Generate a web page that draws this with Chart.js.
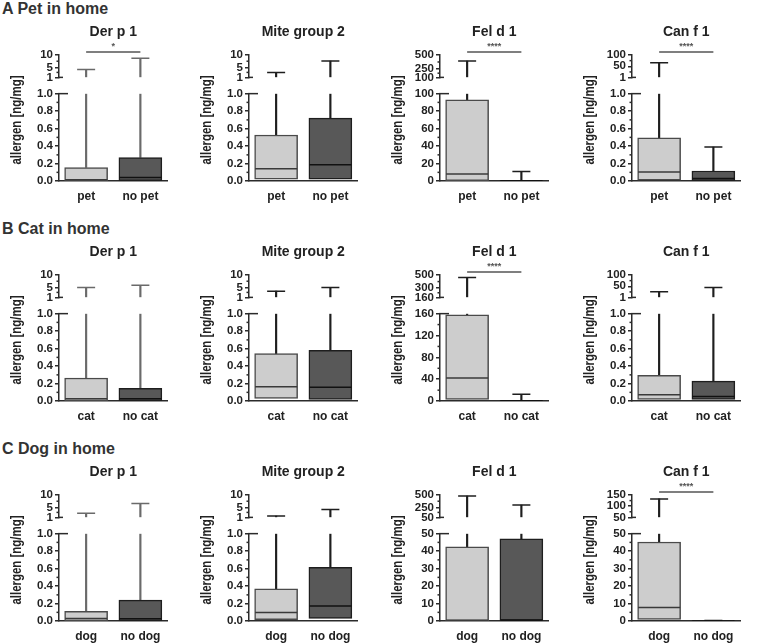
<!DOCTYPE html>
<html><head><meta charset="utf-8">
<script src="https://cdn.jsdelivr.net/npm/chart.js@4.4.1/dist/chart.umd.min.js"></script>
<style>
body{margin:0;background:#fff;width:760px;height:644px;position:relative;overflow:hidden;font-family:'Liberation Sans',Arial,sans-serif}
.hdr{position:absolute;left:2px;font-weight:bold;font-size:16px;line-height:17px;color:#333}
canvas{position:absolute}
</style></head><body>
<script>
// ---------- data ----------
const rowTitles = ['A Pet in home', 'B Cat in home', 'C Dog in home'];
const allergens = ['Der p 1', 'Mite group 2', 'Fel d 1', 'Can f 1'];
const rowGroups = [['pet', 'no pet'], ['cat', 'no cat'], ['dog', 'no dog']];
const yTitle = 'allergen [ng/mg]';

// panels in row-major order (A1..A4, B1..B4, C1..C4); each entry = [group, no group]
const boxLow = [
  [0.004, 0.005], [0.023, 0.023], [0.5, 0.1], [0.012, 0.005],
  [0.003, 0.003], [0.031, 0.02], [3.1, 0.3], [0.02, 0.02],
  [0.003, 0.003], [0.016, 0.031], [0.2, 0.2], [0.97, 0.05]
];
const median = [
  [0.015, 0.04], [0.14, 0.186], [8.1, 0.3], [0.105, 0.03],
  [0.027, 0.027], [0.163, 0.159], [42.2, 0.8], [0.074, 0.054],
  [0.031, 0.027], [0.097, 0.174], [0.4, 0.6], [7.75, 0.1]
];
const boxHigh = [
  [0.155, 0.27], [0.527, 0.72], [93, 0.6], [0.496, 0.116],
  [0.264, 0.147], [0.543, 0.581], [158, 1.5], [0.295, 0.229],
  [0.112, 0.24], [0.368, 0.616], [42.4, 47.1], [45.2, 0.2]
];
const whiskerMax = [
  [4.2, 8.7], [3.0, 7.6], [392, 10.9], [66, 0.39],
  [5.0, 5.85], [3.5, 5.0], [463, 12.4], [25.4, 45.2],
  [2.66, 6.54], [1.55, 4.18], [479, 299], [132.5, 0.3]
];
const significance = ['*', '', '****', '****', '', '', '****', '', '', '', '', '****'];

// axis ticks
const FRAC = [0, 0.2, 0.4, 0.6, 0.8, 1];
const FRAC_MINOR = [0.1, 0.3, 0.5, 0.7, 0.9];
const TEN = [1, 5, 10];
const TEN_MINOR = [3, 7.5];
const lowerMajor = [
  FRAC, FRAC, [0, 20, 40, 60, 80, 100], FRAC,
  FRAC, FRAC, [0, 40, 80, 120, 160], FRAC,
  FRAC, FRAC, [0, 10, 20, 30, 40, 50], [0, 10, 20, 30, 40, 50]
];
const lowerMinor = [
  FRAC_MINOR, FRAC_MINOR, [10, 30, 50, 70, 90], FRAC_MINOR,
  FRAC_MINOR, FRAC_MINOR, [20, 60, 100, 140], FRAC_MINOR,
  FRAC_MINOR, FRAC_MINOR, [5, 15, 25, 35, 45], [5, 15, 25, 35, 45]
];
const upperMajor = [
  TEN, TEN, [100, 250, 500], [1, 50, 100],
  TEN, TEN, [160, 300, 500], [1, 50, 100],
  TEN, TEN, [50, 250, 500], [50, 100, 150]
];
const upperMinor = [
  TEN_MINOR, TEN_MINOR, [175, 375], [25, 75],
  TEN_MINOR, TEN_MINOR, [230, 400], [25, 75],
  TEN_MINOR, TEN_MINOR, [150, 375], [75, 125]
];

// ---------- style ----------
const AXIS = '#2b2b2b';
const FILL = ['#cdcdcd', '#585858'];
const BOXLINE = ['#4a4a4a', '#1e1e1e'];
const colLine = ['#6a6a6a', '#1e1e1e', '#1e1e1e', '#1e1e1e'];
const FAMILY = "'Liberation Sans',Arial,sans-serif";
const YTICKFONT = {family: FAMILY, weight: 'bold', size: 11.5};
const XTICKFONT = {family: FAMILY, weight: 'bold', size: 12};
const colLeft = [0, 190, 381, 573];

// ---------- decoration plugin ----------
const decor = {
  id: 'decor',
  afterDraw(chart, args, o) {
    const {ctx, scales, chartArea} = chart;
    const {x, yTop, yBot} = scales;
    const k = o.k;
    const ax = chartArea.left;
    const seg = (x1, y1, x2, y2) => { ctx.beginPath(); ctx.moveTo(x1, y1); ctx.lineTo(x2, y2); ctx.stroke(); };
    ctx.save();
    ctx.strokeStyle = AXIS; ctx.lineWidth = 1.5;
    lowerMinor[k].forEach(v => { const y = yBot.getPixelForValue(v); seg(ax - 2.5, y, ax, y); });
    upperMinor[k].forEach(v => { const y = yTop.getPixelForValue(v); seg(ax - 2.5, y, ax, y); });
    // axis break marks
    let y = yBot.getPixelForValue(yBot.max);
    seg(ax - 1, y, ax + 9, y);
    y = yTop.getPixelForValue(yTop.min);
    seg(ax - 1, y, ax + 4, y);
    // panel title, centred over the plot area
    ctx.fillStyle = '#222';
    ctx.font = "bold 14px " + FAMILY;
    ctx.textAlign = 'center'; ctx.textBaseline = 'middle';
    ctx.fillText(o.title, (chartArea.left + chartArea.right) / 2, 12);
    // y title
    ctx.save();
    ctx.translate(17, (yTop.top + yBot.bottom) / 2 + 2);
    ctx.rotate(-Math.PI / 2);
    ctx.font = "bold 15px " + FAMILY;
    ctx.fillText(yTitle, 0, 0, 89);
    ctx.restore();
    // significance
    if (significance[k]) {
      const x0 = x.getPixelForValue(0), x1 = x.getPixelForValue(1);
      const ys = yTop.top - 3;
      ctx.strokeStyle = '#555';
      seg(x0, ys, x1, ys);
      ctx.fillStyle = '#555';
      ctx.font = "bold 9px " + FAMILY;
      ctx.textAlign = 'center'; ctx.textBaseline = 'bottom';
      ctx.fillText(significance[k], (x0 + x1) / 2, ys - 0.5);
    }
    ctx.restore();
  }
};

function fmtLower(k, v) { return lowerMajor[k][lowerMajor[k].length - 1] <= 1 ? v.toFixed(1) : String(v); }

function makePanel(r, c) {
  const k = r * 4 + c;
  const cv = document.createElement('canvas');
  cv.width = 190; cv.height = 200;
  cv.style.left = colLeft[c] + 'px';
  cv.style.top = (20 + 220 * r) + 'px';
  document.body.appendChild(cv);

  const bMaj = lowerMajor[k], tMaj = upperMajor[k];
  const bMax = bMaj[bMaj.length - 1];
  const tMin = tMaj[0], tMax = tMaj[tMaj.length - 1];
  const g = [0, 1];
  const lowerWhisker = g.map(i => [boxHigh[k][i], Math.min(whiskerMax[k][i], bMax)]);
  const upperWhisker = g.map(i => whiskerMax[k][i] > bMax ? [tMin, whiskerMax[k][i]] : null);
  const capLow = g.map(i => whiskerMax[k][i] <= bMax ? whiskerMax[k][i] : null);
  const capHigh = g.map(i => whiskerMax[k][i] > bMax ? whiskerMax[k][i] : null);
  const boxes = g.map(i => [boxLow[k][i], boxHigh[k][i]]);
  const medians = g.map(i => median[k][i]);
  const lc = colLine[c];

  const yCommon = {
    type: 'linear', position: 'left', stack: 'y',
    grid: {drawOnChartArea: false, drawTicks: true, tickLength: 4, color: AXIS, lineWidth: 1.5},
    border: {display: true, color: AXIS, width: 1.5},
    ticks: {font: YTICKFONT, color: '#222', padding: 2, autoSkip: false},
    afterFit: s => { s.width = 59; }
  };

  new Chart(cv, {
    type: 'bar',
    data: {
      labels: rowGroups[r],
      datasets: [
        {type: 'bar', data: lowerWhisker, yAxisID: 'yBot', grouped: false, barThickness: 1.5, backgroundColor: lc, borderWidth: 0, order: 5},
        {type: 'bar', data: upperWhisker, yAxisID: 'yTop', grouped: false, barThickness: 1.5, backgroundColor: lc, borderWidth: 0, order: 5},
        {type: 'bar', data: boxes, yAxisID: 'yBot', grouped: false, barThickness: 43, backgroundColor: FILL, borderColor: BOXLINE, borderWidth: 1.5, borderSkipped: false, order: 2},
        {type: 'line', data: medians, yAxisID: 'yBot', showLine: false, pointStyle: 'line', pointRadius: 21, pointBorderWidth: 1.5, pointBorderColor: ['#3a3a3a', '#111'], order: 1},
        {type: 'line', data: capLow, yAxisID: 'yBot', showLine: false, pointStyle: 'line', pointRadius: 9, pointBorderWidth: 1.5, pointBorderColor: lc, order: 1},
        {type: 'line', data: capHigh, yAxisID: 'yTop', showLine: false, pointStyle: 'line', pointRadius: 9, pointBorderWidth: 1.5, pointBorderColor: lc, order: 1}
      ]
    },
    options: {
      responsive: false, animation: false, devicePixelRatio: 1,
      layout: {padding: {left: 0, right: 7, top: 35, bottom: 8.5}},
      plugins: {
        legend: {display: false}, tooltip: {enabled: false}, title: {display: false},
        decor: {k, title: allergens[c]}
      },
      scales: {
        x: {type: 'category', offset: true,
            grid: {display: false, drawTicks: false},
            border: {display: true, color: AXIS, width: 1.5},
            ticks: {font: XTICKFONT, color: '#222', padding: 8}},
        yBot: Object.assign({}, yCommon, {
          stackWeight: 86, min: 0, max: bMax,
          afterBuildTicks: s => { s.ticks = bMaj.map(v => ({value: v})); },
          ticks: Object.assign({}, yCommon.ticks, {callback: v => fmtLower(k, v)})
        }),
        yGap: {type: 'linear', position: 'left', stack: 'y', stackWeight: 16, min: 0, max: 1,
               grid: {display: false, drawTicks: false}, border: {display: false}, ticks: {display: false},
               afterFit: s => { s.width = 59; }},
        yTop: Object.assign({}, yCommon, {
          stackWeight: 22, min: tMin, max: tMax,
          afterBuildTicks: s => { s.ticks = tMaj.map(v => ({value: v})); },
          ticks: Object.assign({}, yCommon.ticks, {callback: v => String(v)})
        })
      }
    },
    plugins: [decor]
  });
}

rowTitles.forEach((t, r) => {
  const d = document.createElement('div');
  d.className = 'hdr'; d.textContent = t; d.style.top = (220 * r) + 'px';
  document.body.appendChild(d);
  for (let c = 0; c < 4; c++) makePanel(r, c);
});
</script>
</body></html>
